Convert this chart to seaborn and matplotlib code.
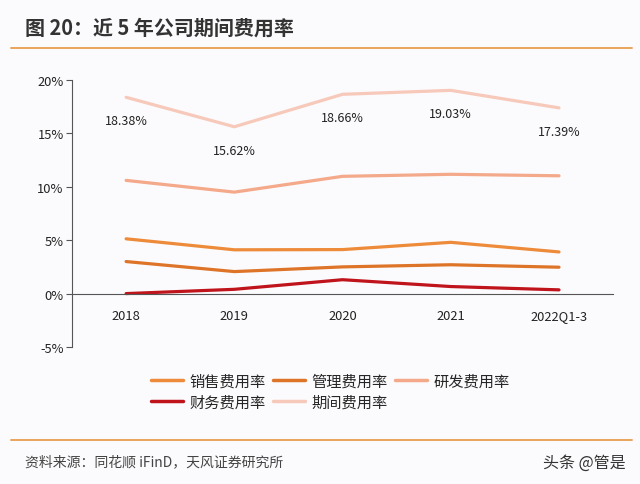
import seaborn as sns
import pandas as pd
import matplotlib.pyplot as plt
from matplotlib.lines import Line2D

# 数据（单位：%）
periods = ["2018", "2019", "2020", "2021", "2022Q1-3"]
sales_rate = [5.13, 4.10, 4.12, 4.80, 3.90]
admin_rate = [3.00, 2.06, 2.50, 2.70, 2.47]
rd_rate = [10.60, 9.50, 10.98, 11.17, 11.03]
fin_rate = [0.00, 0.40, 1.30, 0.66, 0.35]
total_rate = [18.38, 15.62, 18.66, 19.03, 17.39]

names = ["销售费用率", "管理费用率", "研发费用率", "财务费用率", "期间费用率"]
colors = ["#ED8B3A", "#DE7428", "#F3A98A", "#C0141C", "#F7C9BA"]

sns.set_style("white")
plt.rcParams["font.family"] = ["Noto Sans CJK SC", "DejaVu Sans"]

rows = []
for name, vals in zip(names, [sales_rate, admin_rate, rd_rate, fin_rate, total_rate]):
    for i, v in enumerate(vals):
        rows.append({"期间": i, "费用率": v, "类别": name})
df = pd.DataFrame(rows)

bg = "#fbfbfd"
fig = plt.figure(figsize=(6.4, 4.85), dpi=100, facecolor=bg)
ax = fig.add_axes([0.1125, 0.2825, 0.8455, 0.5505])
ax.set_facecolor(bg)

sns.lineplot(data=df, x="期间", y="费用率", hue="类别", hue_order=names,
             palette=colors, linewidth=2.3, legend=False, ax=ax)

# 期间费用率标签
for i, v in enumerate(total_rate):
    ax.annotate(f"{v:.2f}%", (i, v), xytext=(0, -17), textcoords="offset points",
                ha="center", va="center", fontsize=9, color="#222222")

ax.set_xlim(-0.5, 4.5)
ax.set_ylim(-5, 20)
ax.set_yticks([-5, 0, 5, 10, 15, 20])
ax.set_yticklabels(["-5%", "0%", "5%", "10%", "15%", "20%"])
ax.set_xticks(range(5))
ax.set_xticklabels(periods)
ax.set_xticks([0.5, 1.5, 2.5, 3.5, 4.5], minor=True)
ax.set_xlabel("")
ax.set_ylabel("")

for s in ["top", "right"]:
    ax.spines[s].set_visible(False)
ax.spines["bottom"].set_position(("data", 0))
ax.spines["bottom"].set_color("#555555")
ax.spines["left"].set_color("#555555")
ax.spines["bottom"].set_linewidth(0.8)
ax.spines["left"].set_linewidth(0.8)

ax.tick_params(axis="x", which="major", length=0, pad=11, labelsize=9.3, labelcolor="#222222")
ax.tick_params(axis="x", which="minor", length=4, direction="out", color="#555555", width=0.8)
ax.tick_params(axis="y", length=4, direction="out", color="#555555", width=0.8,
               labelsize=9.3, labelcolor="#222222", pad=2)
ax.tick_params(axis="both", bottom=True, left=True)

# 图例：按行 销售/管理/研发，财务/期间
order = [0, 3, 1, 4, 2]
handles = [Line2D([], [], color=colors[k], linewidth=2.5) for k in order]
labels = [names[k] for k in order]
fig.legend(handles, labels, ncol=3, loc="center", bbox_to_anchor=(0.516, 0.191),
           frameon=False, fontsize=11, handlelength=2.1, handletextpad=0.45,
           columnspacing=0.45, labelspacing=0.25)

# 标题与来源
fig.text(0.039, 0.942, "图 20：近 5 年公司期间费用率", fontsize=14.4, fontweight="bold",
         color="#333333", va="center")
fig.add_artist(Line2D([0.017, 0.987], [0.899, 0.899], color="#E9A45A", linewidth=1.4))
fig.add_artist(Line2D([0.017, 0.987], [0.091, 0.091], color="#E9A45A", linewidth=1.4))
fig.text(0.039, 0.047, "资料来源：同花顺 iFinD，天风证券研究所", fontsize=10,
         color="#444444", va="center")
fig.text(0.977, 0.045, "头条 @管是", fontsize=11.5, color="#333333", va="center", ha="right")

fig.savefig("out.png", dpi=100, facecolor=bg)
